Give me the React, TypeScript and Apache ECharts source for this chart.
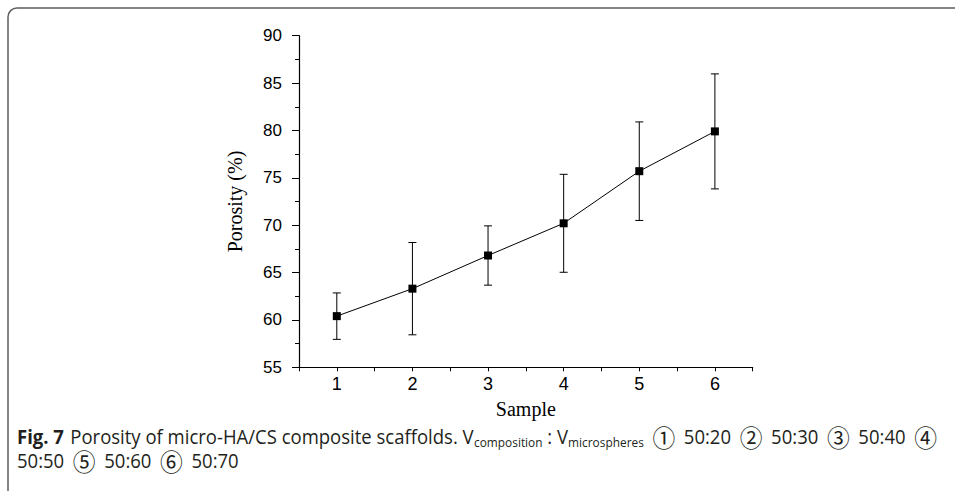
import React, { useEffect, useRef } from "react";
import * as echarts from "echarts";

const samples = [1, 2, 3, 4, 5, 6];
const porosity = [60.4, 63.3, 66.8, 70.2, 75.7, 79.9];
const errors = [2.45, 4.87, 3.13, 5.17, 5.2, 6.07];
const xTicks = [0.5, 6.5];
const yRange = [55, 90];
const captionLine1 = "Porosity of micro-HA/CS composite scaffolds. V";
const captionSub1 = "composition";
const captionSub2 = "microspheres";
const captionRatios1 = [["①", "50:20"], ["②", "50:30"], ["③", "50:40"]];
const captionRatios2 = [["④", "50:50"], ["⑤", "50:60"], ["⑥", "50:70"]];

export default function App() {
  const ref = useRef<HTMLDivElement>(null);
  useEffect(() => {
    if (!ref.current) return;
    const chart = echarts.init(ref.current, null, { renderer: "svg" });
    const lineData = samples.map((s, i) => [s, porosity[i]]);
    const errData = samples.map((s, i) => [s, porosity[i] - errors[i], porosity[i] + errors[i]]);
    const captionFont = "'Open Sans', sans-serif";
    const ratios1 = captionRatios1.map(([c, r]) => "{n| }{c|" + c + "}{n| " + r + "}").join("");
    const line1 =
      "{b|Fig. 7}  {n|" + captionLine1 + "}{s|" + captionSub1 + "}{n| : V}{s|" + captionSub2 + "}" +
      ratios1 + "{n| }{c|" + captionRatios2[0][0] + "}";
    const line2 =
      "{n|" + captionRatios2[0][1] + "}" +
      captionRatios2.slice(1).map(([c, r]) => "{n| }{c|" + c + "}{n| " + r + "}").join("");
    chart.setOption({
      animation: false,
      backgroundColor: "#fff",
      grid: { left: 299, top: 35.7, right: 202.3, bottom: 123.7, containLabel: false },
      xAxis: {
        type: "value",
        min: xTicks[0],
        max: xTicks[1],
        interval: 0.5,
        name: "Sample",
        nameLocation: "middle",
        nameGap: 32,
        nameTextStyle: { fontFamily: "'Liberation Serif', serif", fontSize: 20, color: "#000" },
        axisLine: { lineStyle: { color: "#000", width: 1.2 } },
        axisTick: { length: 4, lineStyle: { color: "#000", width: 1 } },
        axisLabel: {
          margin: 8,
          fontFamily: "'Liberation Sans', Arial, sans-serif",
          fontSize: 18,
          color: "#000",
          formatter: (v: number) => (Number.isInteger(v) ? String(v) : ""),
        },
        splitLine: { show: false },
      },
      yAxis: {
        type: "value",
        min: yRange[0],
        max: yRange[1],
        interval: 5,
        name: "Porosity (%)",
        nameLocation: "middle",
        nameGap: 54,
        nameTextStyle: { fontFamily: "'Liberation Serif', serif", fontSize: 20, color: "#000" },
        axisLine: { show: true, lineStyle: { color: "#000", width: 1.2 } },
        axisTick: { show: true, length: 7, lineStyle: { color: "#000", width: 1 } },
        minorTick: { show: true, splitNumber: 2, length: 4, lineStyle: { color: "#000", width: 1 } },
        axisLabel: {
          margin: 17,
          fontFamily: "'Liberation Sans', Arial, sans-serif",
          fontSize: 17,
          color: "#000",
        },
        splitLine: { show: false },
      },
      series: [
        {
          type: "custom",
          data: errData,
          z: 2,
          renderItem: (params: any, api: any) => {
            const x = api.value(0);
            const lo = api.coord([x, api.value(1)]);
            const hi = api.coord([x, api.value(2)]);
            const w = 4;
            const st = { stroke: "#000", lineWidth: 1 };
            return {
              type: "group",
              children: [
                { type: "line", shape: { x1: lo[0], y1: lo[1], x2: hi[0], y2: hi[1] }, style: st },
                { type: "line", shape: { x1: lo[0] - w, y1: lo[1], x2: lo[0] + w, y2: lo[1] }, style: st },
                { type: "line", shape: { x1: hi[0] - w, y1: hi[1], x2: hi[0] + w, y2: hi[1] }, style: st },
              ],
            };
          },
        },
        {
          type: "line",
          data: lineData,
          z: 3,
          symbol: "rect",
          symbolSize: 8,
          itemStyle: { color: "#000" },
          lineStyle: { color: "#000", width: 1 },
        },
      ],
      graphic: [
        {
          type: "rect",
          shape: { x: 8, y: 8, width: 1100, height: 700, r: 9 },
          style: { fill: "none", stroke: "#5e5e5e", lineWidth: 1.5 },
          silent: true,
        },
        {
          type: "text",
          x: 17,
          y: 425,
          scaleX: 0.95,
          style: {
            text: line1 + "\n" + line2,
            fill: "#231f20",
            rich: {
              b: { fontFamily: captionFont, fontWeight: "bold", fontSize: 19.5, lineHeight: 24, fill: "#231f20" },
              n: { fontFamily: captionFont, fontSize: 19.5, lineHeight: 24, fill: "#231f20" },
              c: { fontFamily: "'Noto Sans CJK SC', sans-serif", fontSize: 24, lineHeight: 24, fill: "#231f20", padding: [0, 4, 0, 4] },
              s: { fontFamily: captionFont, fontSize: 12.5, lineHeight: 24, fill: "#231f20", verticalAlign: "bottom" },
            },
          },
        },
      ],
    });
    return () => chart.dispose();
  }, []);
  return <div ref={ref} style={{ position: "fixed", left: 0, top: 0, width: 955, height: 491 }} />;
}
